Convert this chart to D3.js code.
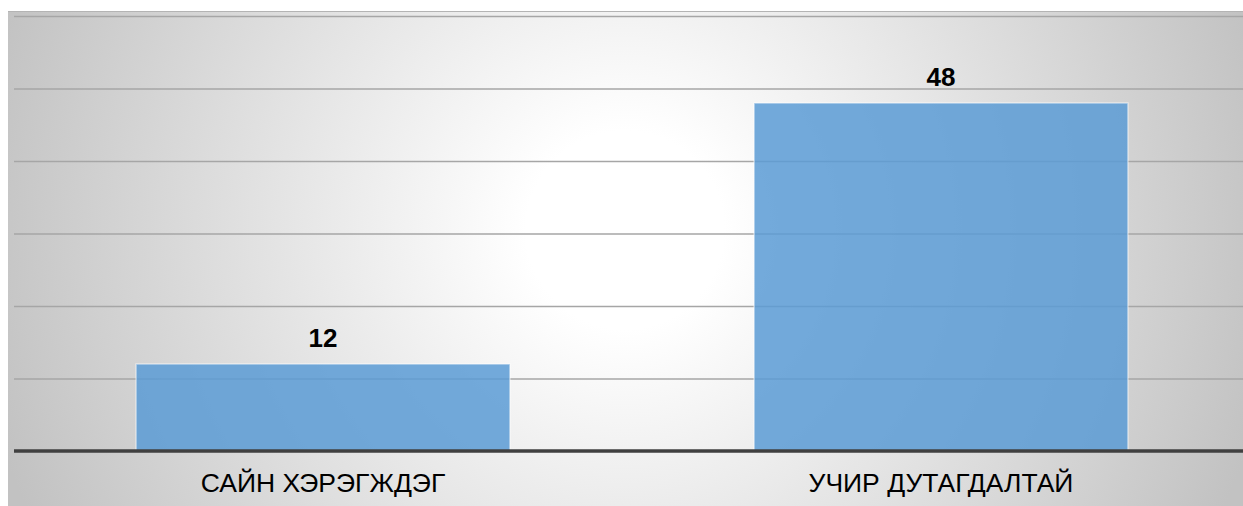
<!DOCTYPE html>
<html>
<head>
<meta charset="utf-8">
<script src="https://cdn.jsdelivr.net/npm/d3@7"></script>
<style>
  body { margin: 0; background: #fff; }
  svg text { font-family: "Liberation Sans", Arial, sans-serif; }
</style>
</head>
<body>
<svg id="chart" width="1243" height="506"></svg>
<script>
// ── Data ──────────────────────────────────────────────────────────────────────
const CATEGORIES = ['САЙН ХЭРЭГЖДЭГ', 'УЧИР ДУТАГДАЛТАЙ'];
const VALUES     = [12, 48];
const Y_TICKS    = [0, 10, 20, 30, 40, 50, 60];

// ── Layout ────────────────────────────────────────────────────────────────────
const W = 1243, H = 506;
const svg = d3.select('#chart');

const defs = svg.append('defs');
const grad = defs.append('radialGradient')
    .attr('id', 'bg-grad')
    .attr('gradientUnits', 'userSpaceOnUse')
    .attr('cx', 625).attr('cy', 230).attr('r', 660);
grad.append('stop').attr('offset', '0.15').attr('stop-color', '#ffffff');
grad.append('stop').attr('offset', '1').attr('stop-color', '#c2c2c2');

// Chart area background
svg.append('rect')
    .attr('x', 8).attr('y', 11)
    .attr('width', W - 8).attr('height', H - 11)
    .attr('fill', 'url(#bg-grad)');
svg.append('line')
    .attr('x1', 8).attr('x2', W)
    .attr('y1', 11.5).attr('y2', 11.5)
    .attr('stroke', '#b4b4b4').attr('stroke-width', 1);

const x = d3.scaleBand()
    .domain(CATEGORIES)
    .range([14, 1250])
    .paddingInner(0.395)
    .paddingOuter(0.1975);

const y = d3.scaleLinear()
    .domain([0, 60])
    .range([451, 16]);

// Gridlines
svg.append('g')
    .attr('transform', 'translate(14,0)')
    .call(d3.axisLeft(y).tickValues(Y_TICKS.slice(1)).tickSize(-(W - 14)).tickFormat(''))
    .call(g => g.select('.domain').remove())
    .call(g => g.selectAll('.tick line')
        .attr('stroke', '#a6a6a6').attr('stroke-width', 1.3));

// Bars
svg.selectAll('rect.bar')
    .data(VALUES)
    .join('rect')
    .attr('class', 'bar')
    .attr('x', (_, i) => x(CATEGORIES[i]))
    .attr('y', d => y(d))
    .attr('width', x.bandwidth())
    .attr('height', d => y(0) - y(d))
    .attr('fill', '#5b9bd5')
    .attr('fill-opacity', 0.85)
    .attr('stroke', '#ffffff')
    .attr('stroke-opacity', 0.5)
    .attr('stroke-width', 1.5);

// Baseline
svg.append('line')
    .attr('x1', 14).attr('x2', W)
    .attr('y1', y(0)).attr('y2', y(0))
    .attr('stroke', '#404040').attr('stroke-width', 3.5);

// Value labels
svg.selectAll('text.val')
    .data(VALUES)
    .join('text')
    .attr('class', 'val')
    .attr('x', (_, i) => x(CATEGORIES[i]) + x.bandwidth() / 2)
    .attr('y', d => y(d) - 17)
    .attr('text-anchor', 'middle')
    .attr('font-size', 26)
    .attr('font-weight', 700)
    .attr('fill', '#000')
    .text(d => d);

// Category labels
svg.selectAll('text.cat')
    .data(CATEGORIES)
    .join('text')
    .attr('class', 'cat')
    .attr('x', d => x(d) + x.bandwidth() / 2)
    .attr('y', 492)
    .attr('text-anchor', 'middle')
    .attr('font-size', 26.5)
    .attr('fill', '#000')
    .text(d => d);
</script>
</body>
</html>
